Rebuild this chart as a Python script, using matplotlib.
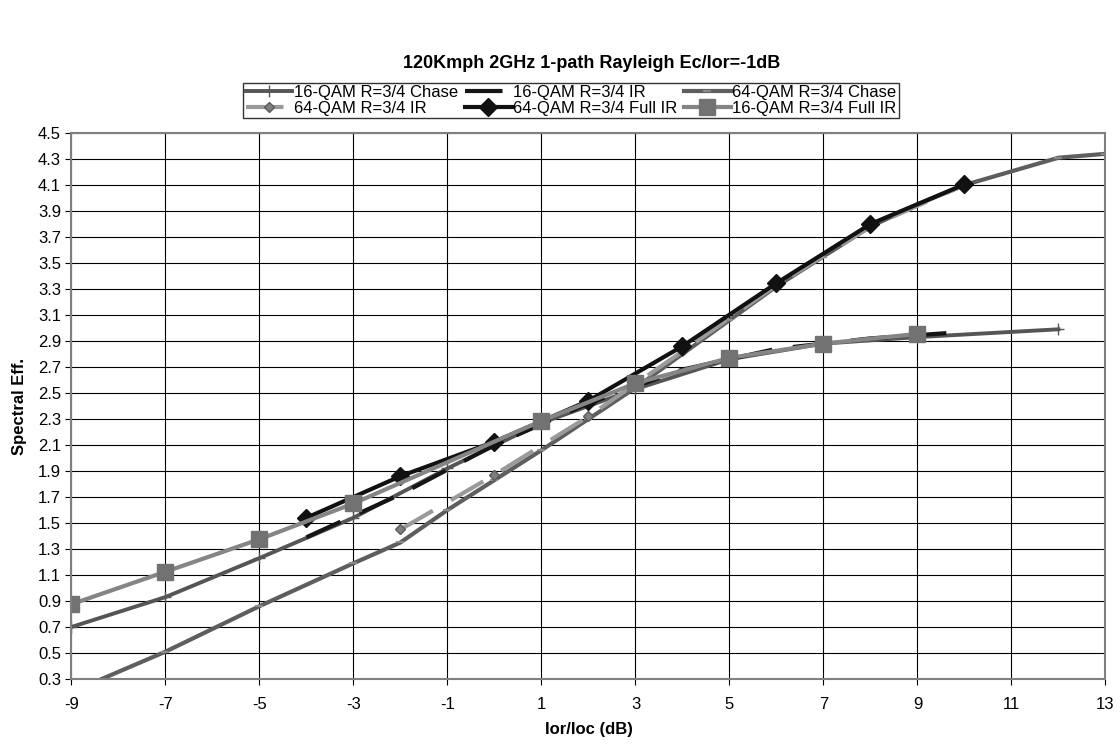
import matplotlib.pyplot as plt

plt.rcParams['font.family'] = ['Liberation Sans', 'DejaVu Sans']
plt.rcParams['axes.unicode_minus'] = False

# 16-QAM R=3/4 Chase
x_16c = [-9, -7, -5, -3, -1, 1, 3, 5, 7, 9, 12]
y_16c = [0.70, 0.93, 1.23, 1.54, 1.92, 2.27, 2.53, 2.76, 2.88, 2.93, 2.99]
# 16-QAM R=3/4 IR
x_16ir = [-4, -2, 0, 2, 4, 6, 8, 10]
y_16ir = [1.39, 1.72, 2.10, 2.42, 2.68, 2.84, 2.92, 2.97]
# 64-QAM R=3/4 Chase
x_64c = [-9, -7, -5, -3, -2, -1, 0, 1, 2, 3, 4, 5, 6, 7, 8, 9, 10, 12, 13]
y_64c = [0.20, 0.51, 0.86, 1.19, 1.35, 1.60, 1.83, 2.06, 2.30, 2.54, 2.80,
         3.06, 3.32, 3.55, 3.78, 3.95, 4.10, 4.31, 4.34]
# 64-QAM R=3/4 IR
x_64ir = [-2, 0, 2, 4, 6, 8, 10]
y_64ir = [1.45, 1.87, 2.32, 2.82, 3.33, 3.78, 4.10]
# 64-QAM R=3/4 Full IR
x_64f = [-4, -2, 0, 2, 4, 6, 8, 10]
y_64f = [1.54, 1.86, 2.125, 2.44, 2.86, 3.345, 3.80, 4.105]
# 16-QAM R=3/4 Full IR
x_16f = [-9, -7, -5, -3, 1, 3, 5, 7, 9]
y_16f = [0.875, 1.125, 1.375, 1.65, 2.285, 2.575, 2.77, 2.88, 2.955]

x_ticks = list(range(-9, 14, 2))
y_ticks = [round(0.3 + 0.2 * i, 1) for i in range(22)]

fig = plt.figure(figsize=(11.2, 7.44), dpi=100)
ax = fig.add_axes([0.0638, 0.0874, 0.9232, 0.7338])

ax.grid(True, color='black', linewidth=0.8)
ax.set_axisbelow(True)

h1, = ax.plot(x_16c, y_16c, color='#555555', lw=2.8, marker='+', ms=8,
              mew=1.0, mec='#555555', label='16-QAM R=3/4 Chase')
h2, = ax.plot(x_16ir, y_16ir, color='#151515', lw=3, ls=(0, (9, 5)),
              label='16-QAM R=3/4 IR')
h3, = ax.plot(x_64c, y_64c, color='#5e5e5e', lw=3, marker='_', ms=6,
              mew=1.5, mec='#8a8a8a', label='64-QAM R=3/4 Chase')
h4, = ax.plot(x_64ir, y_64ir, color='#9a9a9a', lw=3, ls=(0, (9, 5)),
              marker='D', ms=5, mfc='#7f7f7f', mec='#5a5a5a',
              label='64-QAM R=3/4 IR')
h5, = ax.plot(x_64f, y_64f, color='#111111', lw=3, marker='D', ms=9,
              mfc='#111111', mec='#111111', label='64-QAM R=3/4 Full IR')
h6, = ax.plot(x_16f, y_16f, color='#858585', lw=3, marker='s', ms=12,
              mfc='#727272', mec='#727272', label='16-QAM R=3/4 Full IR')

ax.set_xlim(-9, 13)
ax.set_ylim(0.3, 4.5)
ax.set_xticks(x_ticks)
ax.set_yticks(y_ticks)
ax.set_yticklabels([f'{v:.1f}' for v in y_ticks])
ax.tick_params(labelsize=12, direction='out', length=4, color='black')
ax.tick_params(axis='x', pad=9)
for s in ax.spines.values():
    s.set_color('#808080')
    s.set_linewidth(1.5)

ax.set_xlabel('Ior/Ioc (dB)', fontsize=12, fontweight='bold')
ax.set_ylabel('Spectral Eff.', fontsize=12, fontweight='bold')
ax.xaxis.set_label_coords(0.5, -0.079)
ax.yaxis.set_label_coords(-0.043, 0.5)

fig.text(0.528, 0.915, '120Kmph 2GHz 1-path Rayleigh Ec/Ior=-1dB',
         ha='center', va='center', fontsize=13, fontweight='bold')

handles = [h1, h4, h2, h5, h3, h6]
leg = fig.legend(handles=handles, loc='upper center', ncol=3,
                 bbox_to_anchor=(0.51, 0.889), fontsize=12, frameon=True,
                 fancybox=False, edgecolor='black', handlelength=2.8,
                 handletextpad=0.1, columnspacing=0.4, borderpad=0.15,
                 labelspacing=0.05, borderaxespad=0)
leg.get_frame().set_linewidth(1.0)

fig.savefig('out.png', dpi=100)
